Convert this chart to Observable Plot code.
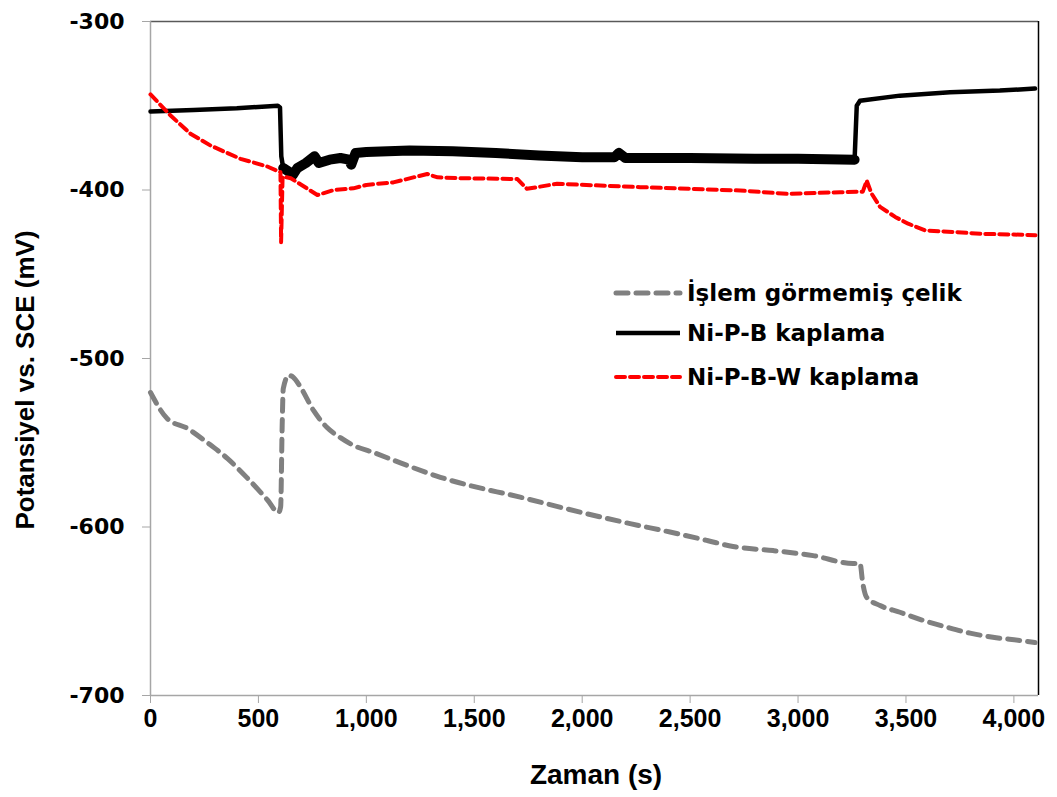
<!DOCTYPE html>
<html>
<head>
<meta charset="utf-8">
<script src="https://cdn.jsdelivr.net/npm/d3@7"></script>
<script src="https://cdn.jsdelivr.net/npm/@observablehq/plot@0.6"></script>
<style>
  html, body { margin: 0; padding: 0; background: #fff; }
  #chart svg { display: block; }
  g[aria-label="y-axis tick label"] text { font-family: "DejaVu Sans", sans-serif; font-weight: bold; font-size: 22px; fill: #000; }
  g[aria-label="x-axis tick label"] text { font-family: "Liberation Sans", Arial, sans-serif; font-weight: bold; font-size: 25px; fill: #000; }
</style>
</head>
<body>
<div id="chart"></div>
<script>
// ---- data ----
const seriesNames = ["İşlem görmemiş çelik", "Ni-P-B kaplama", "Ni-P-B-W kaplama"];
const xTicks = [0, 500, 1000, 1500, 2000, 2500, 3000, 3500, 4000];
const yTicks = [-700, -600, -500, -400, -300];

const grayT = [0, 77, 171, 263, 356, 449, 542, 593, 603, 610, 615, 640, 660, 695, 756, 818, 880, 941, 1033, 1190, 1343, 1426, 1713, 1991, 2222, 2407, 2579, 2699, 2885, 2996, 3070, 3255, 3287, 3300, 3318, 3380, 3472, 3579, 3690, 3797, 3903, 4028, 4098];
const grayV = [-520.2, -535.6, -541.5, -549.9, -559.3, -571, -584, -591.4, -588, -540, -518, -510, -511, -517, -531, -541, -547, -551.6, -555.8, -563.5, -570.5, -573.6, -582.3, -591.2, -598, -603, -608, -611.6, -614, -615.7, -617, -621.7, -621.7, -633.5, -641.8, -646.6, -650.6, -655.4, -659.5, -663, -665.4, -667.4, -668.6];

const blackT = [0, 200, 400, 590, 600, 606, 615, 640, 660, 680, 720, 760, 780, 830, 880, 920, 930, 950, 1000, 1200, 1400, 1600, 1800, 2000, 2150, 2170, 2200, 2500, 2800, 3000, 3262, 3272, 3287, 3472, 3704, 3935, 4098];
const blackV = [-353.4, -352.5, -351.5, -350, -351, -380, -387, -389, -391, -387, -384, -380, -384, -382, -381, -382, -385, -378, -377.5, -376.5, -377, -378, -379.5, -380.5, -380.5, -378, -381, -381, -381.5, -381.5, -382, -350, -347, -344, -342, -341, -339.8];

const redT = [0, 93, 185, 278, 417, 540, 602, 605, 612, 650, 700, 773, 850, 940, 1000, 1125, 1282, 1330, 1435, 1700, 1744, 1884, 2269, 2732, 2948, 3195, 3300, 3318, 3340, 3380, 3450, 3510, 3590, 3730, 3850, 3990, 4100];
const redV = [-343.3, -355.8, -366.6, -373.6, -381.5, -386, -389.4, -431, -392, -393, -397, -403, -400, -399, -397, -395.5, -390.5, -392.5, -393, -393.5, -399.3, -396.3, -398.3, -400.3, -402.3, -401.3, -401, -394.4, -402, -410, -416, -420, -424, -425, -426, -426.4, -426.8];

const gray = grayT.map((t, i) => ({t, v: grayV[i]}));
const black = blackT.map((t, i) => ({t, v: blackV[i]}));
const red = redT.map((t, i) => ({t, v: redV[i]}));

const X_MAX = 4114;
const noisy = black.filter(d => d.t >= 615 && d.t <= 3262);

const plot = Plot.plot({
  width: 1057,
  height: 797,
  marginLeft: 150,
  marginRight: 19,
  marginTop: 21,
  marginBottom: 102,
  style: { background: "#fff", overflow: "visible" },
  x: { domain: [0, X_MAX], label: null },
  y: { domain: [-700, -300], label: null },
  marks: [
    Plot.axisX({ ticks: xTicks, tickFormat: d3.format(","), tickSize: 8, tickPadding: 6, stroke: "#a6a6a6", label: null }),
    Plot.axisY({ ticks: yTicks, tickFormat: d => String(d), tickSize: 8, tickPadding: 18, stroke: "#a6a6a6", label: null }),
    Plot.ruleY([-300], { stroke: "#595959", strokeWidth: 1.5 }),
    Plot.ruleX([X_MAX], { stroke: "#000", strokeWidth: 1.5 }),
    Plot.ruleX([0], { stroke: "#a6a6a6", strokeWidth: 1.5 }),
    Plot.ruleY([-700], { stroke: "#a6a6a6", strokeWidth: 1.5 }),
    Plot.line(gray, { x: "t", y: "v", stroke: "#808080", strokeWidth: 5, strokeDasharray: "12,8", strokeLinecap: "round", strokeLinejoin: "round", curve: "monotone-x" }),
    Plot.line(black, { x: "t", y: "v", stroke: "#000", strokeWidth: 4.5, strokeLinejoin: "round", curve: "linear" }),
    Plot.line(noisy, { x: "t", y: "v", stroke: "#000", strokeWidth: 10, strokeLinejoin: "round", curve: "linear" }),
    Plot.line(red, { x: "t", y: "v", stroke: "#ff0000", strokeWidth: 4, strokeDasharray: "9,5", strokeLinecap: "round", strokeLinejoin: "round", curve: "linear" })
  ]
});

document.getElementById("chart").appendChild(plot);

const svg = d3.select(plot);

// axis titles
svg.append("text")
  .attr("transform", "translate(34,380) rotate(-90)")
  .attr("text-anchor", "middle")
  .attr("font-family", "'Liberation Sans', Arial, sans-serif")
  .attr("font-weight", "bold")
  .attr("font-size", 26)
  .attr("fill", "#000")
  .text("Potansiyel vs. SCE (mV)");

svg.append("text")
  .attr("x", 596)
  .attr("y", 784)
  .attr("text-anchor", "middle")
  .attr("font-family", "'Liberation Sans', Arial, sans-serif")
  .attr("font-weight", "bold")
  .attr("font-size", 28)
  .attr("fill", "#000")
  .text("Zaman (s)");

// legend
const legendStyles = [
  { stroke: "#808080", width: 5, dash: "12,8" },
  { stroke: "#000", width: 4.5, dash: null },
  { stroke: "#ff0000", width: 4, dash: "9,5" }
];
const legendY = [293, 333, 377];
const lg = svg.append("g");
seriesNames.forEach((name, i) => {
  const s = legendStyles[i];
  const ln = lg.append("line")
    .attr("x1", 616).attr("x2", 680)
    .attr("y1", legendY[i]).attr("y2", legendY[i])
    .attr("stroke", s.stroke).attr("stroke-width", s.width)
    .attr("stroke-linecap", s.dash ? "round" : "butt");
  if (s.dash) ln.attr("stroke-dasharray", s.dash);
  lg.append("text")
    .attr("x", 687).attr("y", legendY[i] + 8)
    .attr("text-anchor", "start")
    .attr("font-family", "'DejaVu Sans', sans-serif")
    .attr("font-weight", "bold")
    .attr("font-size", 23)
    .attr("fill", "#000")
    .text(name);
});
</script>
</body>
</html>
